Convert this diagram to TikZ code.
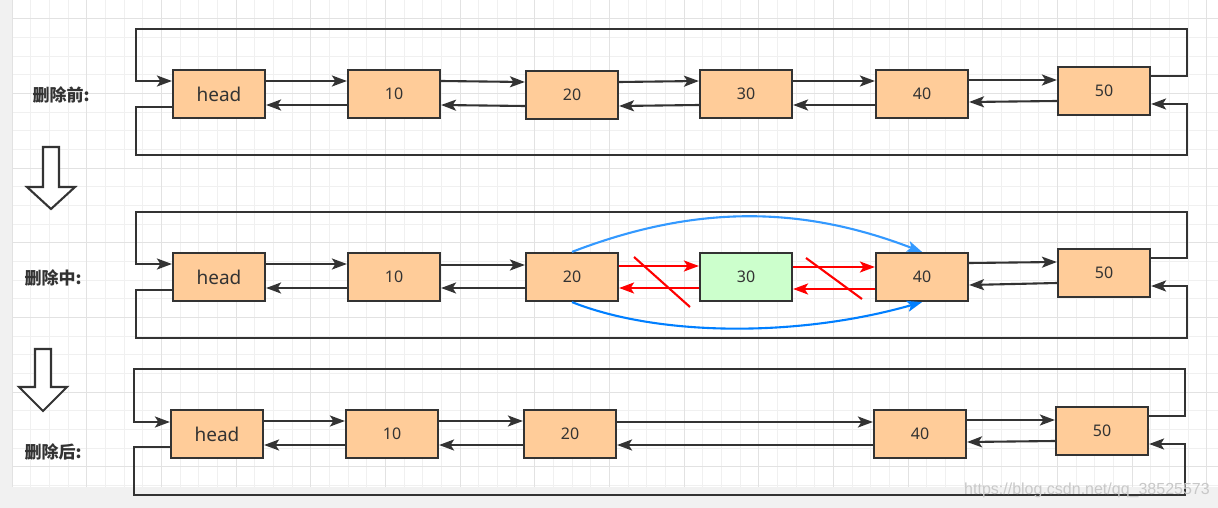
\documentclass[tikz,border=0pt]{standalone}
\usepackage{fontspec}
\setmainfont{Noto Sans}
\newfontfamily\cjk{Noto Sans CJK SC}
\newfontfamily\wmfont{Liberation Sans}
\usetikzlibrary{arrows.meta}

\definecolor{boxfill}{RGB}{255,204,153}
\definecolor{boxgreen}{RGB}{204,255,204}
\definecolor{ink}{RGB}{51,51,51}
\definecolor{lightblue}{RGB}{51,153,255}
\definecolor{deepblue}{RGB}{0,127,255}
\definecolor{gridminor}{RGB}{240,240,240}
\definecolor{gridmajor}{RGB}{226,226,226}
\definecolor{strip}{RGB}{241,241,241}
\definecolor{wmgray}{RGB}{200,200,200}

\begin{document}
\begin{tikzpicture}[x=1pt,y=-1pt]
	\tikzstyle{elem}=[rectangle,draw=ink,fill=boxfill,line width=2.2pt,minimum width=92pt,minimum height=48pt,inner sep=0pt,text=ink,font=\fontsize{16}{18}\selectfont]
	\tikzstyle{headelem}=[elem,font=\fontsize{19}{20}\selectfont]
	\tikzstyle{link}=[draw=ink,line width=2.1pt,-{Stealth[length=15pt,width=11pt,inset=3.5pt]}]
	\tikzstyle{cut}=[link,draw=red]
	\tikzstyle{stage}=[anchor=west,text=ink,font=\cjk\bfseries\fontsize{17}{18}\selectfont]
	\tikzstyle{down}=[draw=ink,fill=white,line width=2.1pt]
	\useasboundingbox (0,0) rectangle (1218,508);

	% page and grid
	\fill[strip] (0,0) rectangle (1218,508);
	\fill[white] (12,0) rectangle (1218,487);
	\foreach \k in {0,...,64} \draw[gridminor,line width=1pt] ({12+18.67*\k},0) -- ({12+18.67*\k},487);
	\foreach \k in {1,...,26} \draw[gridminor,line width=1pt] (12,{18.67*\k}) -- (1218,{18.67*\k});
	\foreach \k in {0,4,...,64} \draw[gridmajor,line width=1pt] ({12+18.67*\k},0) -- ({12+18.67*\k},487);
	\foreach \k in {1,5,...,25} \draw[gridmajor,line width=1pt] (12,{18.67*\k}) -- (1218,{18.67*\k});

	% stage labels and hollow arrows
	\node[stage] (s1) at (29,95) {删除前:};
	\node[stage] (s2) at (21,278) {删除中:};
	\node[stage] (s3) at (21,452) {删除后:};
	\draw[down] (43,147) -- (59,147) -- (59,187) -- (75,187) -- (51,209) -- (27,187) -- (43,187) -- cycle;
	\draw[down] (35,349) -- (51,349) -- (51,387) -- (67,387) -- (43,411) -- (19,387) -- (35,387) -- cycle;

	% before
	\node[headelem] (a0) at (219,94) {head};
	\node[elem] (a1) at (394,94) {10};
	\node[elem] (a2) at (572,95) {20};
	\node[elem] (a3) at (746,94) {30};
	\node[elem] (a4) at (922,94) {40};
	\node[elem] (a5) at (1104,91) {50};
	\draw[link] ([yshift=13pt]a0.east) -- ([yshift=13pt]a1.west);
	\draw[link] ([yshift=-11pt]a1.west) -- ([yshift=-11pt]a0.east);
	\draw[link] ([yshift=13pt]a1.east) -- ([yshift=13pt]a2.west);
	\draw[link] ([yshift=-11pt]a2.west) -- ([yshift=-11pt]a1.east);
	\draw[link] ([yshift=13pt]a2.east) -- ([yshift=13pt]a3.west);
	\draw[link] ([yshift=-11pt]a3.west) -- ([yshift=-11pt]a2.east);
	\draw[link] ([yshift=13pt]a3.east) -- ([yshift=13pt]a4.west);
	\draw[link] ([yshift=-11pt]a4.west) -- ([yshift=-11pt]a3.east);
	\draw[link] ([yshift=14pt]a4.east) -- ([yshift=11pt]a5.west);
	\draw[link] ([yshift=-10pt]a5.west) -- ([yshift=-8pt]a4.east);
	\coordinate (a-tl) at (136,29);
	\coordinate (a-tr) at (1187,29);
	\coordinate (a-bl) at (136,155);
	\coordinate (a-br) at (1187,155);
	\draw[link] ([yshift=15pt]a5.east) -| (a-tr) -- (a-tl) |- ([yshift=13pt]a0.west);
	\draw[link] ([yshift=-13pt]a0.west) -| (a-bl) -- (a-br) |- ([yshift=-13pt]a5.east);

	% during
	\node[headelem] (b0) at (219,277) {head};
	\node[elem] (b1) at (394,277) {10};
	\node[elem] (b2) at (572,277) {20};
	\node[elem,fill=boxgreen] (b3) at (746,277) {30};
	\node[elem] (b4) at (922,277) {40};
	\node[elem] (b5) at (1104,273) {50};
	\draw[link] ([yshift=13pt]b0.east) -- ([yshift=13pt]b1.west);
	\draw[link] ([yshift=-11pt]b1.west) -- ([yshift=-11pt]b0.east);
	\draw[link] ([yshift=12pt]b1.east) -- ([yshift=12pt]b2.west);
	\draw[link] ([yshift=-11pt]b2.west) -- ([yshift=-11pt]b1.east);
	\draw[cut] ([yshift=11pt]b2.east) -- ([yshift=11pt]b3.west);
	\draw[cut] ([yshift=-11pt]b3.west) -- ([yshift=-11pt]b2.east);
	\draw[cut] ([yshift=10pt]b3.east) -- ([yshift=10pt]b4.west);
	\draw[cut] ([yshift=-12pt]b4.west) -- ([yshift=-12pt]b3.east);
	\draw[red,line width=2.1pt] (634,257) -- (690,307);
	\draw[red,line width=2.1pt] (806,258) -- (862,299);
	\draw[link,draw=lightblue] (b2.north) .. controls (694,205) and (800,205) .. (b4.north);
	\draw[link,draw=deepblue] (b2.south) .. controls (660,337) and (800,337) .. (b4.south);
	\draw[link] ([yshift=14pt]b4.east) -- ([yshift=11pt]b5.west);
	\draw[link] ([yshift=-10pt]b5.west) -- ([yshift=-8pt]b4.east);
	\coordinate (b-tl) at (136,212);
	\coordinate (b-tr) at (1187,212);
	\coordinate (b-bl) at (136,338);
	\coordinate (b-br) at (1187,338);
	\draw[link] ([yshift=15pt]b5.east) -| (b-tr) -- (b-tl) |- ([yshift=13pt]b0.west);
	\draw[link] ([yshift=-13pt]b0.west) -| (b-bl) -- (b-br) |- ([yshift=-13pt]b5.east);

	% after
	\node[headelem] (c0) at (217,434) {head};
	\node[elem] (c1) at (392,434) {10};
	\node[elem] (c2) at (570,434) {20};
	\node[elem] (c4) at (920,434) {40};
	\node[elem] (c5) at (1102,431) {50};
	\draw[link] ([yshift=13pt]c0.east) -- ([yshift=13pt]c1.west);
	\draw[link] ([yshift=-11pt]c1.west) -- ([yshift=-11pt]c0.east);
	\draw[link] ([yshift=13pt]c1.east) -- ([yshift=13pt]c2.west);
	\draw[link] ([yshift=-11pt]c2.west) -- ([yshift=-11pt]c1.east);
	\draw[link] ([yshift=12pt]c2.east) -- ([yshift=12pt]c4.west);
	\draw[link] ([yshift=-11pt]c4.west) -- ([yshift=-11pt]c2.east);
	\draw[link] ([yshift=14pt]c4.east) -- ([yshift=11pt]c5.west);
	\draw[link] ([yshift=-10pt]c5.west) -- ([yshift=-8pt]c4.east);
	\coordinate (c-tl) at (134,369);
	\coordinate (c-tr) at (1185,369);
	\coordinate (c-bl) at (134,495);
	\coordinate (c-br) at (1185,495);
	\draw[link] ([yshift=15pt]c5.east) -| (c-tr) -- (c-tl) |- ([yshift=12pt]c0.west);
	\draw[link] ([yshift=-13pt]c0.west) -| (c-bl) -- (c-br) |- ([yshift=-13pt]c5.east);

	\node[text=wmgray,font=\wmfont\fontsize{16}{17}\selectfont] (wm) at (1087,490) {https://blog.csdn.net/qq\_38525573};
\end{tikzpicture}
\end{document}
